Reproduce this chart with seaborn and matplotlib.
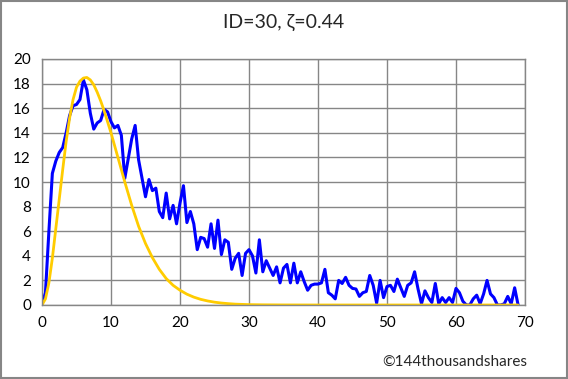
import numpy as np
import matplotlib
matplotlib.use("Agg")
import matplotlib.pyplot as plt
from matplotlib.patches import Rectangle
import seaborn as sns

# observed series, one value every half unit from 0 to 69
obs_x = np.arange(0, 69.5, 0.5)
obs_y = [0.1, 1.0, 6.0, 10.7, 11.7, 12.4, 12.8, 14.0, 15.4, 16.2,
         16.3, 16.7, 18.3, 17.5, 15.6, 14.3, 14.8, 15.0, 15.9, 15.7,
         14.9, 14.4, 14.6, 13.8, 10.3, 11.9, 13.5, 14.6, 11.8, 10.3,
         8.8, 10.2, 9.3, 9.5, 7.6, 7.1, 9.1, 7.0, 8.1, 6.6,
         8.3, 9.7, 6.7, 7.6, 6.6, 4.5, 5.5, 5.4, 4.7, 6.6,
         4.6, 6.9, 4.1, 5.3, 5.1, 2.9, 3.8, 4.2, 2.4, 4.2,
         4.5, 4.0, 2.6, 5.3, 2.7, 3.6, 3.0, 2.4, 3.1, 1.8,
         3.0, 3.3, 1.8, 3.4, 1.8, 2.7, 1.9, 1.2, 1.6, 1.7,
         1.7, 1.8, 2.9, 1.0, 0.8, 0.5, 2.0, 1.75, 2.25, 1.6,
         1.35, 1.3, 0.7, 1.0, 1.1, 2.4, 1.6, 0.15, 2.0, 0.6,
         1.5, 1.6, 1.1, 2.1, 1.4, 0.7, 1.6, 1.8, 2.7, 1.3,
         0.1, 1.15, 0.6, 0.2, 1.75, 0.1, 0.6, 0.2, 0.6, 0.2,
         1.35, 1.0, 0.3, 0.0, 0.0, 0.5, 0.8, 0.1, 0.9, 2.0,
         0.9, 0.6, 0.0, 0.0, 0.1, 0.7, 0.1, 1.4, 0.0]

# fitted curve
fit_x = [0, 0.5, 1, 1.5, 2, 2.5, 3, 3.5, 4, 4.5, 5, 5.5, 6, 6.5, 7, 7.5,
         8, 8.5, 9, 9.5, 10, 10.5, 11, 11.5, 12, 13, 14, 15, 16, 17, 18,
         19, 20, 21, 22, 23, 24, 25, 26, 27, 28, 29, 30, 32, 35, 40, 69]
fit_y = [0, 0.5, 1.8, 3.8, 6.2, 8.6, 11.0, 13.3, 15.2, 16.7, 17.7, 18.2,
         18.45, 18.5, 18.3, 17.9, 17.3, 16.6, 15.8, 14.9, 14.0, 13.0, 12.0,
         11.0, 10.0, 8.1, 6.4, 5.0, 3.85, 2.9, 2.15, 1.6, 1.2, 0.88, 0.64,
         0.46, 0.33, 0.23, 0.16, 0.11, 0.07, 0.05, 0.03, 0.015, 0.005, 0, 0]

sns.set_style("white")
plt.rcParams['font.family'] = ['Lato', 'DejaVu Sans']

fig = plt.figure(figsize=(5.68, 3.79), dpi=100)
ax = fig.add_axes([42/568, 1-305/379, 483/568, 246/379])

sns.lineplot(x=obs_x, y=obs_y, ax=ax, color='#0000FF', linewidth=2.2)
sns.lineplot(x=fit_x, y=fit_y, ax=ax, color='#FFCC00', linewidth=2.0)

ax.set_xlim(0, 70)
ax.set_ylim(0, 20)
ax.set_xticks(range(0, 71, 10))
ax.set_yticks(range(0, 21, 2))
ax.grid(True, color='#868686', linewidth=1)
ax.set_axisbelow(True)
for s in ax.spines.values():
    s.set_color('#868686')
    s.set_linewidth(1)
ax.tick_params(labelsize=11, length=0, pad=8, colors='black')
ax.set_xlabel('')
ax.set_ylabel('')

fig.text(0.5, 1-22/379, 'ID=30, ζ=0.44', ha='center', va='center', fontsize=14)
fig.text(455/568, 1-362/379, '©144thousandshares', ha='center', va='center', fontsize=11)

fig.patches.append(Rectangle((0.001, 0.002), 0.997, 0.996, transform=fig.transFigure,
                             fill=False, edgecolor='#868686', linewidth=1.5))

fig.savefig('out.png', dpi=100)
